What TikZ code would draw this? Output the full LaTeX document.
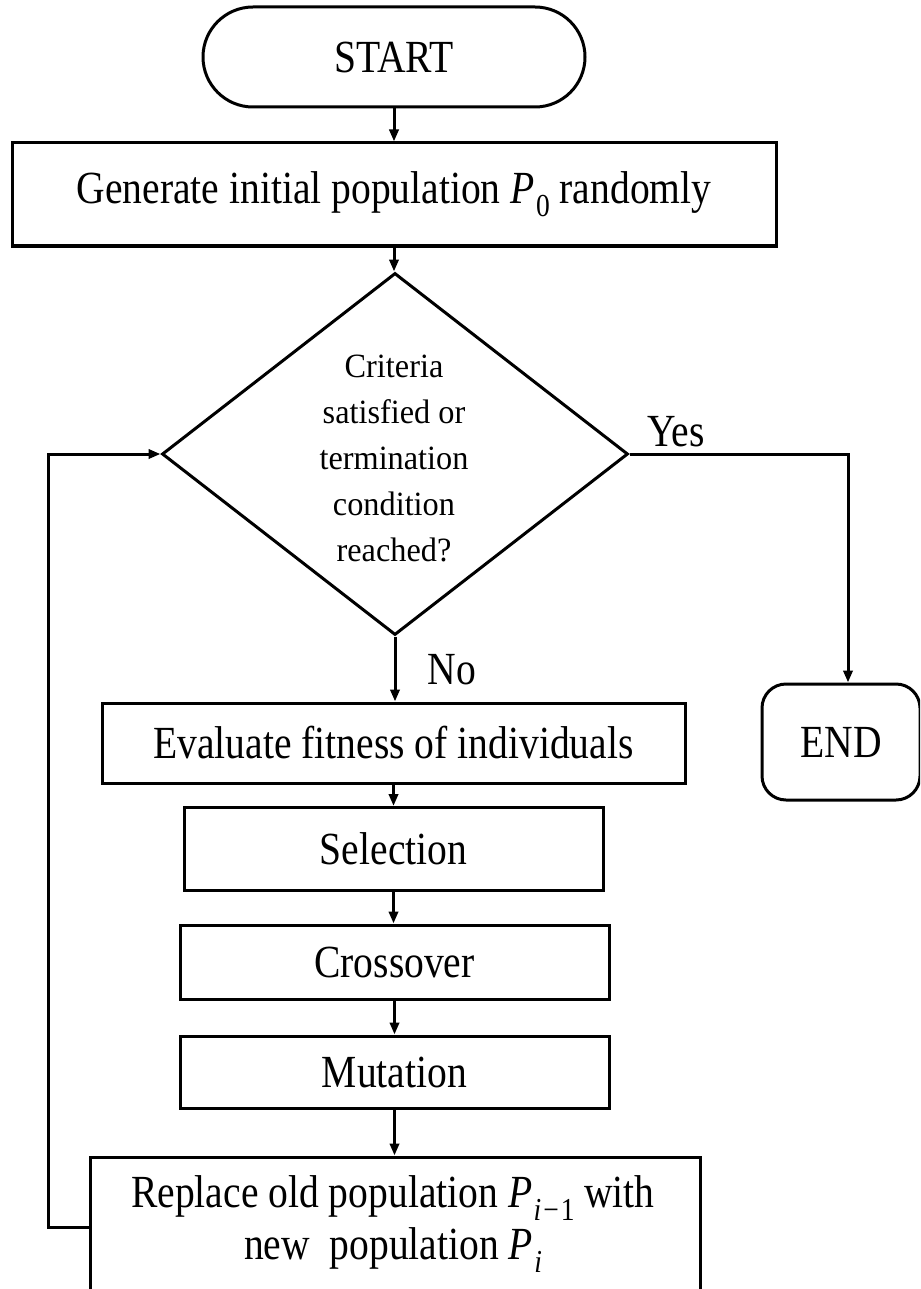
\documentclass[tikz,border=0pt]{standalone}
\usepackage{fontspec}
\setmainfont{Liberation Serif}[FakeStretch=0.86]
\newfontfamily\questionfont{Liberation Serif}[FakeStretch=0.95]
\usetikzlibrary{shapes.geometric,shapes.misc,arrows.meta}
\newcommand\popvar[1]{\textit{P}\kern0.03em\raisebox{-0.28em}{\fontsize{16}{16}\selectfont #1}}
\begin{document}
\begin{tikzpicture}[x=0.5pt,y=-0.5pt,
  line width=1.5pt,
  every node/.style={font=\fontsize{23}{26}\selectfont},
  procbox/.style={draw, rectangle, inner sep=0pt},
  flow/.style={-{Triangle[length=6pt,width=4.6pt]}},
  ]
\useasboundingbox (0,0) rectangle (920,1289);
\clip (0,0) rectangle (920,1289);

% terminals
\node[draw, rounded rectangle, minimum width=191pt, minimum height=50pt, inner sep=0pt] (start) at (394,57) {START};
\node[draw, rectangle, rounded corners=12pt, minimum width=79pt, minimum height=58pt, inner sep=0pt] (end) at (841,742) {END};

% process steps
\node[procbox, minimum width=382pt, minimum height=51.5pt] (gen) at (394,194.5) {Generate initial population \popvar{0} randomly};
\node[diamond, draw, minimum width=233pt, minimum height=181pt, inner sep=0pt] (dec) at (395,454) {};
\node[align=center, font=\questionfont\fontsize{17}{23}\selectfont] (dectext) at (394,458) {Criteria\\satisfied or\\termination\\condition\\reached?};
\node[procbox, minimum width=291.5pt, minimum height=40pt] (eval) at (393.5,743) {Evaluate fitness of individuals};
\node[procbox, minimum width=209.5pt, minimum height=41.5pt] (sel) at (393.5,849) {Selection};
\node[procbox, minimum width=214.5pt, minimum height=37pt] (cross) at (394.5,962) {Crossover};
\node[procbox, minimum width=214.5pt, minimum height=36pt] (mut) at (394.5,1072) {Mutation};
\node[procbox, minimum width=305pt, minimum height=75pt] (repl) at (395,1232) {};
\node[align=center] (repltext) at (393,1224) {Replace old population \popvar{\textit{i}\kern1pt−\kern1pt1} with\\new\ \ population \popvar{\textit{i}}};

% branch labels
\node (yes) at (676,432) {Yes};
\node (no) at (452,670) {No};

% helper points for the routed connectors
\coordinate (yesturn) at (848,456);
\coordinate (loopturn) at (48,1227);

% connectors
\draw[flow] (start.south) -- (start.south |- gen.north);
\draw[flow] (gen.south) -- (gen.south |- dec.north);
\draw[flow] (dec.south) -- (dec.south |- eval.north);
\draw[flow] (dec.east) -- (dec.east -| yesturn) -- (yesturn |- end.north);
\draw[flow] (eval.south) -- (eval.south |- sel.north);
\draw[flow] (sel.south) -- (sel.south |- cross.north);
\draw[flow] (cross.south) -- (cross.south |- mut.north);
\draw[flow] (mut.south) -- (mut.south |- repl.north);
\draw[flow] (loopturn -| repl.west) -- (loopturn) |- (dec.west);
\end{tikzpicture}
\end{document}
